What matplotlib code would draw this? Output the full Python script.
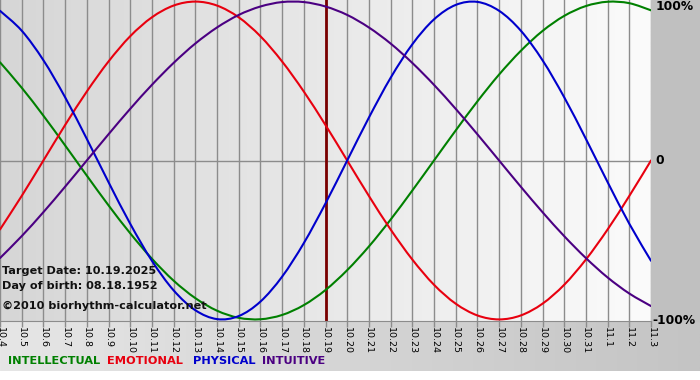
import matplotlib
matplotlib.use('Agg')
import matplotlib.pyplot as plt
import numpy as np
from matplotlib.colors import LinearSegmentedColormap
from matplotlib.patches import Rectangle, PathPatch
from matplotlib.path import Path

dates = ['10.4', '10.5', '10.6', '10.7', '10.8', '10.9', '10.10', '10.11', '10.12',
         '10.13', '10.14', '10.15', '10.16', '10.17', '10.18', '10.19', '10.20',
         '10.21', '10.22', '10.23', '10.24', '10.25', '10.26', '10.27', '10.28',
         '10.29', '10.30', '10.31', '11.1', '11.2', '11.3']

intellectual = [0.618, 0.458, 0.282, 0.095, -0.095, -0.282, -0.458, -0.618, -0.756,
                -0.866, -0.945, -0.990, -0.999, -0.972, -0.910, -0.815, -0.690,
                -0.541, -0.372, -0.189, 0.0, 0.189, 0.372, 0.541, 0.690, 0.815,
                0.910, 0.972, 0.999, 0.990, 0.945]
emotional = [-0.434, -0.223, 0.0, 0.223, 0.434, 0.623, 0.782, 0.901, 0.975, 1.0,
             0.975, 0.901, 0.782, 0.623, 0.434, 0.223, 0.0, -0.223, -0.434, -0.623,
             -0.782, -0.901, -0.975, -1.0, -0.975, -0.901, -0.782, -0.623, -0.434,
             -0.223, 0.0]
physical = [0.942, 0.817, 0.631, 0.398, 0.136, -0.136, -0.398, -0.631, -0.817,
            -0.942, -0.998, -0.979, -0.888, -0.731, -0.520, -0.270, 0.0, 0.270,
            0.520, 0.731, 0.888, 0.979, 0.998, 0.942, 0.817, 0.631, 0.398, 0.136,
            -0.136, -0.398, -0.631]
intuitive = [-0.614, -0.476, -0.325, -0.165, 0.0, 0.165, 0.325, 0.476, 0.614, 0.736,
             0.837, 0.916, 0.969, 0.997, 0.997, 0.969, 0.916, 0.837, 0.736, 0.614,
             0.476, 0.325, 0.165, 0.0, -0.165, -0.325, -0.476, -0.614, -0.736,
             -0.837, -0.916]

target_date = '10.19'
series_names = ['INTELLECTUAL', 'EMOTIONAL', 'PHYSICAL', 'INTUITIVE']
series_colors = ['#008000', '#e8000f', '#0000cc', '#4b0082']
info_lines = ['Target Date: 10.19.2025', 'Day of birth: 08.18.1952',
              '\u00a92010 biorhythm-calculator.net']
y_labels = ['100%', '0', '-100%']

W, H = 700, 380
fig = plt.figure(figsize=(7, 3.8), dpi=100)
fig.patch.set_facecolor('white')

# background (figure-level, pixel coords)
bg = fig.add_axes([0, 0, 1, 1], zorder=0)
bg.set_xlim(0, W)
bg.set_ylim(H, 0)
bg.axis('off')
grad = np.linspace(0, 1, 256).reshape(1, -1)
cm_bottom = LinearSegmentedColormap.from_list('b', ['#e6e6e6', '#c4c4c4'])
bg.imshow(grad, cmap=cm_bottom, extent=[0, W, 371, 321], aspect='auto')
bg.add_patch(Rectangle((651, 0), W - 651, 321, color='#c0c0c0'))

# main plot
x = np.arange(len(dates))
ax = fig.add_axes([0, (H - 321) / H, 651 / W, 321 / H], zorder=1)
ax.set_xlim(0, len(dates) - 1)
ax.set_ylim(-1.01, 1.01)
cm_plot = LinearSegmentedColormap.from_list('p', ['#d6d6d6', '#fbfbfb'])
ax.imshow(grad, cmap=cm_plot, extent=[0, len(dates) - 1, -1.01, 1.01],
          aspect='auto', zorder=0)

ax.set_xticks(x)
ax.set_xticklabels(dates)
ax.set_yticks([])
ax.xaxis.grid(True, color='#8c8c8c', lw=1, zorder=1)
ax.set_axisbelow(True)
ax.axhline(0, color='#8c8c8c', lw=1, zorder=1)
ax.tick_params(axis='x', direction='out', length=4, width=1, color='#8c8c8c',
               labelsize=6.8, labelrotation=270, pad=0.5)
for s in ['top', 'left', 'right']:
    ax.spines[s].set_visible(False)
ax.spines['bottom'].set_color('#8c8c8c')

ax.axvline(dates.index(target_date), color='#7a0000', lw=2, zorder=2)


def smooth_path(xs, ys):
    """Cubic Bezier path passing through every data point (Catmull-Rom)."""
    pts = np.column_stack([xs, ys]).astype(float)
    n = len(pts)
    verts = [pts[0]]
    codes = [Path.MOVETO]
    for i in range(n - 1):
        p0 = pts[i - 1] if i > 0 else pts[i]
        p1 = pts[i]
        p2 = pts[i + 1]
        p3 = pts[i + 2] if i + 2 < n else pts[i + 1]
        c1 = p1 + (p2 - p0) / 6.0
        c2 = p2 - (p3 - p1) / 6.0
        verts += [c1, c2, p2]
        codes += [Path.CURVE4] * 3
    return Path(verts, codes)


for vals, col in zip([intellectual, emotional, physical, intuitive], series_colors):
    ax.add_patch(PathPatch(smooth_path(x, vals), facecolor='none', edgecolor=col,
                           lw=1.5, zorder=3, capstyle='round', joinstyle='round'))

# info text
for txt, yp in zip(info_lines, [271, 286, 306]):
    fig.text(2 / W, 1 - yp / H, txt, fontsize=8.1, fontweight='bold',
             color='#111111', va='center', ha='left', zorder=10)

# right labels
fig.text(656 / W, 1 - 7 / H, y_labels[0], fontsize=8.8, fontweight='bold',
         va='center', ha='left', zorder=10)
fig.text(655 / W, 1 - 161 / H, y_labels[1], fontsize=8.8, fontweight='bold',
         va='center', ha='left', zorder=10)
fig.text(652 / W, 1 - 321 / H, y_labels[2], fontsize=8.8, fontweight='bold',
         va='center', ha='left', zorder=10)

# legend
for name, col, xp in zip(series_names, series_colors, [8, 107, 193, 262]):
    fig.text(xp / W, 1 - 361 / H, name, fontsize=8.2, fontweight='bold',
             color=col, va='center', ha='left', zorder=10)

fig.savefig('out.png', dpi=100)
